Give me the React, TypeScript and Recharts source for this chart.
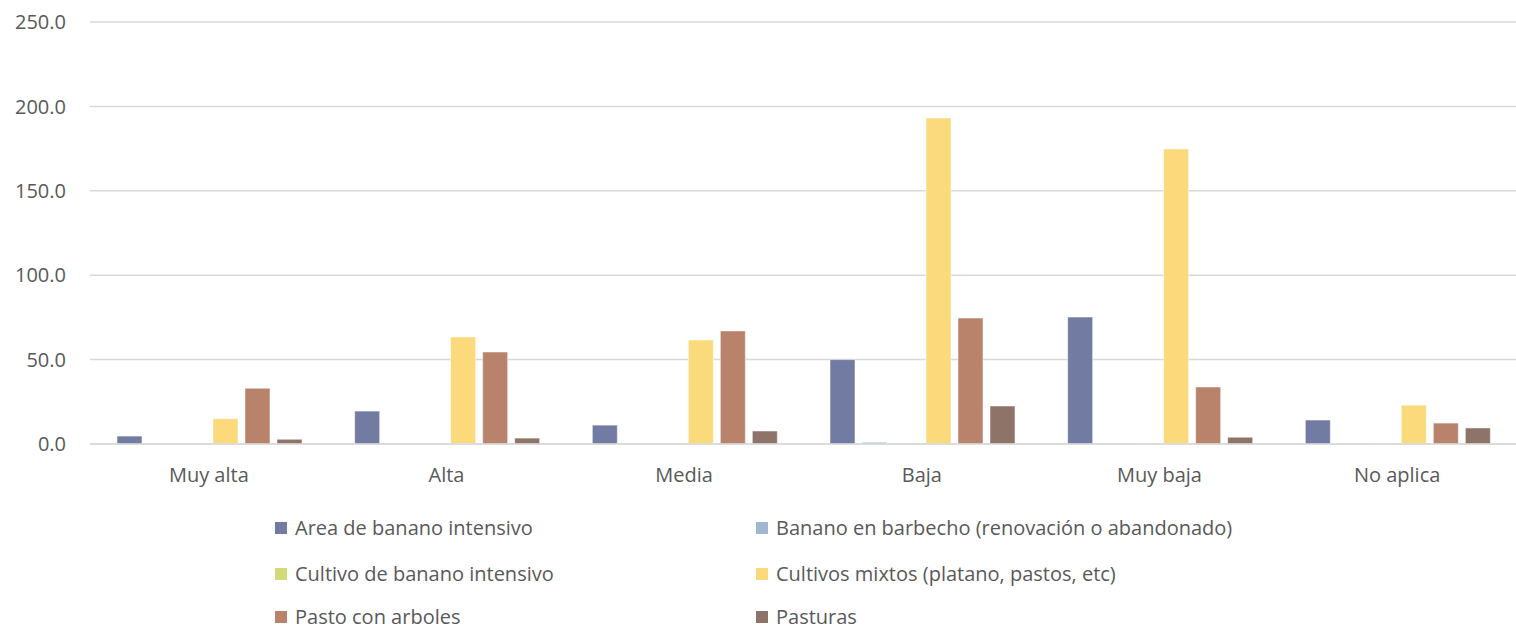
import { BarChart, Bar, XAxis, YAxis, CartesianGrid, Legend } from 'recharts';

const categories = ['Muy alta', 'Alta', 'Media', 'Baja', 'Muy baja', 'No aplica'];

const areaBananoIntensivo = [4.7, 19.5, 11.2, 50.0, 75.2, 14.2];
const bananoBarbecho = [0, 0, 0, 1.0, 0, 0];
const cultivoBananoIntensivo = [0, 0, 0, 0, 0.3, 0.3];
const cultivosMixtos = [15.0, 63.4, 61.6, 193.1, 174.8, 23.0];
const pastoConArboles = [33.0, 54.5, 67.0, 74.6, 33.8, 12.4];
const pasturas = [2.8, 3.5, 7.7, 22.5, 4.0, 9.5];

const yTicks = [0, 50, 100, 150, 200, 250];

const series = [
  { key: 'a', name: 'Area de banano intensivo', color: '#727CA3', values: areaBananoIntensivo },
  { key: 'b', name: 'Banano en barbecho (renovación o abandonado)', color: '#9FB8CD', values: bananoBarbecho },
  { key: 'c', name: 'Cultivo de banano intensivo', color: '#D2DA7A', values: cultivoBananoIntensivo },
  { key: 'd', name: 'Cultivos mixtos (platano, pastos, etc)', color: '#FADA7A', values: cultivosMixtos },
  { key: 'e', name: 'Pasto con arboles', color: '#B8826B', values: pastoConArboles },
  { key: 'f', name: 'Pasturas', color: '#8E7368', values: pasturas },
];

const chartData = categories.map((cat, i) => {
  const row: Record<string, string | number> = { name: cat };
  series.forEach((s) => {
    row[s.key] = s.values[i];
  });
  return row;
});

const FONT = '"Open Sans", sans-serif';
const rowTops = [0, 46, 89];

function LegendBox() {
  return (
    <div style={{ position: 'relative', width: 1516, height: 110, fontFamily: FONT, fontSize: 20, lineHeight: '20px', color: '#595959' }}>
      {series.map((s, i) => {
        const col = i % 2;
        const row = Math.floor(i / 2);
        return (
          <div
            key={s.key}
            style={{
              position: 'absolute',
              left: col === 0 ? 275 : 756,
              top: rowTops[row],
              height: 20,
              display: 'flex',
              alignItems: 'center',
              whiteSpace: 'nowrap',
            }}
          >
            <span style={{ display: 'inline-block', width: 12, height: 12, background: s.color, marginRight: 8 }} />
            <span>{s.name}</span>
          </div>
        );
      })}
    </div>
  );
}

export default function App() {
  return (
    <div style={{ position: 'absolute', left: 0, top: 0, background: '#fff' }}>
      <BarChart
        width={1516}
        height={628}
        data={chartData}
        margin={{ top: 22, right: 0, left: 0, bottom: 0 }}
        barCategoryGap={27}
        barGap={7}
      >
        <CartesianGrid vertical={false} stroke="#d9d9d9" strokeWidth={1.5} />
        <XAxis
          dataKey="name"
          axisLine={{ stroke: '#d9d9d9', strokeWidth: 1.5 }}
          tickLine={false}
          tickMargin={18}
          height={74}
          tick={{ fontSize: 20, fill: '#595959', fontFamily: FONT }}
        />
        <YAxis
          width={90}
          domain={[0, 250]}
          ticks={yTicks}
          axisLine={false}
          tickLine={false}
          tickMargin={18}
          tickFormatter={(v: number) => v.toFixed(1)}
          tick={{ fontSize: 20, fill: '#595959', fontFamily: FONT }}
        />
        <Legend
          verticalAlign="bottom"
          content={() => <LegendBox />}
          wrapperStyle={{ left: 0, top: 518, width: 1516 }}
        />
        {series.map((s) => (
          <Bar
            key={s.key}
            dataKey={s.key}
            name={s.name}
            fill={s.color}
            stroke="#ffffff"
            strokeOpacity={0.5}
            isAnimationActive={false}
          />
        ))}
      </BarChart>
    </div>
  );
}
